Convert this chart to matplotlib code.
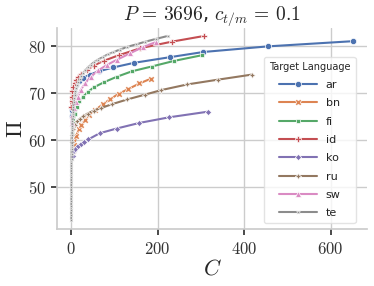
import matplotlib
matplotlib.use("Agg")
import matplotlib.pyplot as plt
import seaborn as sns
from matplotlib.ticker import FuncFormatter

langs = ["ar", "bn", "fi", "id", "ko", "ru", "sw", "te"]

ar_x = [1, 2, 4, 7, 11, 18, 28, 43, 65, 97, 146, 229, 306, 456, 652]
ar_y = [65.0, 66.3, 68.5, 70.3, 71.6, 72.5, 73.2, 73.9, 74.6, 75.4, 76.4, 77.6, 78.7, 79.9, 81.0]

bn_x = [5, 7, 12, 18, 24, 32, 42, 55, 74, 91, 110, 132, 158, 184]
bn_y = [57.6, 58.8, 60.9, 62.2, 63.1, 64.3, 65.3, 66.3, 67.6, 68.7, 69.8, 70.8, 72.0, 73.0]

fi_x = [2, 5, 9, 14, 19, 28, 39, 53, 77, 105, 141, 186, 238, 302]
fi_y = [61.5, 63.5, 65.5, 67.0, 68.2, 69.2, 70.2, 71.2, 72.3, 73.4, 74.6, 75.6, 76.8, 78.0]

id_x = [0.5, 1, 2, 3, 5, 8, 12, 17, 24, 36, 52, 75, 110, 160, 233, 307]
id_y = [67.0, 68.2, 69.2, 70.4, 71.3, 72.0, 72.7, 73.3, 74.0, 74.8, 75.8, 76.8, 78.0, 79.5, 80.9, 82.1]

ko_x = [4, 7, 10, 15, 22, 30, 40, 66, 105, 158, 227, 317]
ko_y = [56.5, 57.6, 58.1, 58.6, 59.1, 59.5, 60.1, 61.4, 62.4, 63.6, 64.8, 66.0]

ru_x = [1, 2, 4, 8, 14, 20, 28, 38, 52, 70, 95, 130, 170, 209, 269, 339, 419]
ru_y = [59.5, 61.0, 62.2, 63.2, 64.0, 64.5, 65.0, 65.6, 66.2, 66.8, 67.6, 68.6, 69.6, 70.6, 71.8, 72.8, 73.9]

sw_x = [1, 3, 7, 11, 15, 22, 32, 45, 63, 84, 105, 136, 167, 196]
sw_y = [63.5, 65.2, 66.7, 68.1, 69.1, 70.6, 72.0, 73.4, 74.8, 76.0, 77.0, 78.4, 79.8, 80.8]

te_x = [0.1, 0.1, 0.2, 0.2, 0.3, 0.3, 0.4, 0.4, 0.5, 0.5, 0.6, 0.7, 0.8, 0.9, 1.0,
        1.2, 1.4, 1.6, 1.9, 2.2, 2.6, 3.0, 3.6, 4.2, 5.0, 6, 7, 8.5, 10, 12, 14, 17,
        20, 24, 28, 33, 39, 46, 54, 63, 73, 85, 98, 113, 130, 150, 172, 197, 223]
te_y = [43.0, 44.0, 45.0, 46.0, 47.0, 48.0, 49.0, 50.0, 51.0, 52.0, 53.0, 54.0, 55.0, 56.0, 57.0,
        58.0, 59.0, 60.0, 61.0, 62.0, 63.0, 64.0, 65.0, 66.0, 67.0, 68.0, 68.8, 69.6, 70.3, 71.0, 71.7, 72.4,
        73.0, 73.6, 74.2, 74.8, 75.4, 76.0, 76.6, 77.1, 77.6, 78.2, 78.7, 79.2, 79.8, 80.3, 80.9, 81.5, 82.1]

xs = [ar_x, bn_x, fi_x, id_x, ko_x, ru_x, sw_x, te_x]
ys = [ar_y, bn_y, fi_y, id_y, ko_y, ru_y, sw_y, te_y]
markers = ["o", "X", (4, 0, 45), "P", (4, 0, 0), (4, 1, 0), "^", (4, 1, 45)]
msizes = [4.5, 4.5, 4, 5, 4.5, 4.5, 4.5, 3.5]

sns.set_theme(style="whitegrid")
plt.rcParams["mathtext.fontset"] = "cm"
plt.rcParams["xtick.bottom"] = True
plt.rcParams["ytick.left"] = True
colors = sns.color_palette("deep")

fig = plt.figure(figsize=(3.74, 2.86), dpi=100)
ax = fig.add_axes([0.152, 0.199, 0.83, 0.703])

for i in range(len(langs)):
    ax.plot(xs[i], ys[i], color=colors[i], marker=markers[i], markersize=msizes[i],
            markeredgecolor="white", markeredgewidth=0.5, linewidth=1.5, label=langs[i])

ax.set_xlim(-33, 685)
ax.set_ylim(41.0, 83.8)
ax.set_xticks([0, 200, 400, 600])
ax.set_yticks([50, 60, 70, 80])
fmt = FuncFormatter(lambda v, p: "$%d$" % v)
ax.xaxis.set_major_formatter(fmt)
ax.yaxis.set_major_formatter(fmt)
ax.tick_params(labelsize=12, length=4, color="#333333", labelcolor="#333333")
for s in ["top", "right"]:
    ax.spines[s].set_visible(False)
for s in ["left", "bottom"]:
    ax.spines[s].set_color("#cccccc")

ax.set_xlabel("$C$", fontsize=16, labelpad=1)
ax.set_ylabel("$\\Pi$", fontsize=16, labelpad=2)
ax.set_title("$P\\,=\\,3696$, $c_{t/m}\\,=\\,0.1$", fontsize=14, pad=4)

leg = ax.legend(title="Target Language", loc="upper right", bbox_to_anchor=(0.98, 0.885),
                fontsize=8, title_fontsize=7, handlelength=3.4, labelspacing=0.75,
                borderpad=0.45, frameon=True, markerscale=1.0)
leg.get_frame().set_edgecolor("#dddddd")
for t in leg.get_texts():
    t.set_color("#222222")

fig.savefig("out.png", dpi=100)
